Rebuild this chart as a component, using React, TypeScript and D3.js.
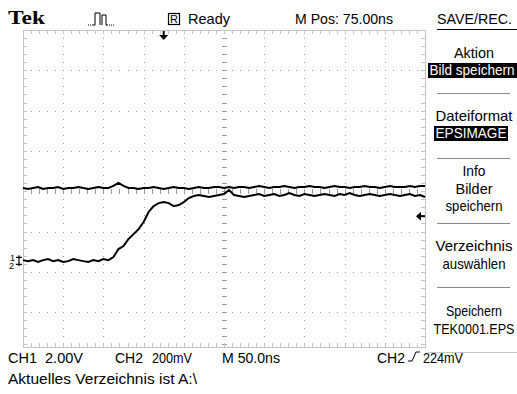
import React from "react";
import * as d3 from "d3";

// ---- data ----
const timeStart = -175; // ns at left edge
const timeEnd = 325; // ns at right edge
const sampleTimes = d3.range(timeStart, timeEnd + 0.01, 6.25); // ns
const ch1Volts = [
  3.64, 3.59, 3.64, 3.69, 3.59, 3.64, 3.64, 3.69, 3.59, 3.64, 3.64, 3.69, 3.64, 3.59, 3.64, 3.69, 3.64, 3.64,
  3.74, 3.89, 3.74, 3.64,
  3.64, 3.59, 3.64, 3.64, 3.69, 3.64, 3.59, 3.64, 3.69, 3.64,
  3.64, 3.59, 3.64, 3.69, 3.64, 3.64, 3.69, 3.69, 3.64, 3.69,
  3.64, 3.69, 3.69, 3.64, 3.69, 3.74, 3.69, 3.64, 3.69, 3.69,
  3.74, 3.69, 3.64, 3.69, 3.69, 3.74, 3.69, 3.69, 3.64, 3.69,
  3.74, 3.69, 3.69, 3.64, 3.69, 3.69, 3.74, 3.69, 3.69, 3.64,
  3.69, 3.74, 3.69, 3.69, 3.69, 3.74, 3.69, 3.74, 3.74,
];
const ch2MilliVolts = [
  6, 1, 6, -3, 6, 11, 1, 6, -3, 1, 11, 6, 1, -3, 6, 1, 11, 6,
  21, 61, 76, 111, 135, 160, 195, 245, 274, 289, 294, 289, 274, 279, 294, 314, 324, 329, 324, 319, 324, 329, 334, 354, 329, 324, 319, 324, 329,
  334, 324, 329, 334, 324, 329, 339, 329, 324, 334,
  329, 324, 329, 334, 329, 324, 334, 329, 339, 329,
  324, 329, 334, 329, 324, 329, 334, 329, 324, 329,
  334, 324, 329, 319,
];
const ch1VoltsPerDiv = 2;
const ch2MilliVoltsPerDiv = 200;
const groundOffsetDiv = -1.74;
const triggerLevelMv = 224;
const triggerTimeNs = 0;

const menuTitle = "SAVE/REC.";
const menuLabels = [["Aktion"], ["Dateiformat"], ["Info", "Bilder", "speichern"], ["Verzeichnis", "auswählen"], ["Speichern", "TEK0001.EPS"]];
const menuValues = ["Bild speichern", "EPSIMAGE", null, null, null];
const bottomLabels = ["CH1", "2.00V", "CH2", "200mV", "M 50.0ns", "CH2", "224mV"];
const statusLine = "Aktuelles Verzeichnis ist A:\\";

const W = 517;
const H = 394;
const gx0 = 23;
const gx1 = 425;
const gy0 = 30;
const divV = 40.3;
const gy1 = 347;
const FONT = "'Liberation Sans', 'Arial', sans-serif";
const FS = 15;

// approximate target widths for the narrow scope font
const widths: Record<string, number> = {
  Ready: 42,
  "M Pos: 75.00ns": 98,
  "SAVE/REC.": 75,
  Aktion: 40,
  "Bild speichern": 85,
  Dateiformat: 77,
  EPSIMAGE: 71,
  Info: 23,
  Bilder: 37,
  speichern: 57,
  Verzeichnis: 77,
  "auswählen": 63,
  Speichern: 56,
  "TEK0001.EPS": 81,
  CH1: 29,
  "2.00V": 38,
  CH2: 28,
  "200mV": 40,
  "M 50.0ns": 58,
  "224mV": 40,
  [statusLine]: 189,
};

function T(props: { x: number; y: number; s: string; anchor?: string; fill?: string }) {
  const w = widths[props.s];
  return (
    <text
      x={props.x}
      y={props.y}
      fontSize={FS}
      textAnchor={props.anchor || "start"}
      fill={props.fill || "#000"}
      textLength={w}
      lengthAdjust="spacingAndGlyphs"
    >
      {props.s}
    </text>
  );
}

export default function App() {
  const x = d3.scaleLinear().domain([timeStart, timeEnd]).range([gx0, gx1]);
  const yDiv = d3.scaleLinear().domain([-4, 4]).range([gy0 + 8 * divV, gy0]);
  const divH = (gx1 - gx0) / 10;
  const cx = gx0 + 5 * divH;
  const cy = yDiv(0);

  const n = Math.min(sampleTimes.length, ch1Volts.length, ch2MilliVolts.length);
  const idx = d3.range(n);
  const line1 = d3
    .line<number>()
    .x((i) => x(sampleTimes[i]))
    .y((i) => yDiv(ch1Volts[i] / ch1VoltsPerDiv + groundOffsetDiv));
  const line2 = d3
    .line<number>()
    .x((i) => x(sampleTimes[i]))
    .y((i) => yDiv(ch2MilliVolts[i] / ch2MilliVoltsPerDiv + groundOffsetDiv));

  const gridColor = "#c4c4c4";
  const dotColor = "#9a9a9a";
  const minorH = divH / 5;
  const minorV = divV / 5;

  const elems: React.ReactNode[] = [];
  for (let k = 1; k < 10; k++) {
    if (k === 5) continue;
    const gx = gx0 + k * divH;
    for (let yy = gy0 + minorV; yy < gy1 - 1; yy += minorV) {
      elems.push(<rect key={`dv${k}-${yy}`} x={Math.round(gx)} y={Math.round(yy)} width={1} height={1} fill={dotColor} />);
    }
  }
  for (let k = 1; k < 8; k++) {
    if (k === 4) continue;
    const gy = gy0 + k * divV;
    for (let xx = gx0 + minorH; xx < gx1 - 1; xx += minorH) {
      elems.push(<rect key={`dh${k}-${xx}`} x={Math.round(xx)} y={Math.round(gy)} width={1} height={1} fill={dotColor} />);
    }
  }
  for (let yy = gy0 + minorV; yy < gy1 - 1; yy += minorV) {
    elems.push(<rect key={`cv${yy}`} x={Math.round(cx) - 2} y={Math.round(yy)} width={5} height={1} fill={dotColor} />);
  }
  for (let xx = gx0 + minorH; xx < gx1 - 1; xx += minorH) {
    elems.push(<rect key={`ch${xx}`} x={Math.round(xx)} y={Math.round(cy) - 2} width={1} height={5} fill={dotColor} />);
  }
  for (let xx = gx0 + minorH; xx < gx1 - 1; xx += minorH) {
    elems.push(<rect key={`bt${xx}`} x={Math.round(xx)} y={gy0} width={1} height={4} fill={gridColor} />);
    elems.push(<rect key={`bb${xx}`} x={Math.round(xx)} y={gy1 - 4} width={1} height={4} fill={gridColor} />);
  }
  for (let yy = gy0 + minorV; yy < gy1 - 1; yy += minorV) {
    elems.push(<rect key={`bl${yy}`} x={gx0} y={Math.round(yy)} width={4} height={1} fill={gridColor} />);
    elems.push(<rect key={`br${yy}`} x={gx1 - 4} y={Math.round(yy)} width={4} height={1} fill={gridColor} />);
  }

  const trigX = x(triggerTimeNs);
  const trigY = yDiv(triggerLevelMv / ch2MilliVoltsPerDiv + groundOffsetDiv);
  const gndY = yDiv(groundOffsetDiv);

  const menuX = 474;
  const itemTops = [47, 110, 165, 240, 305];
  const sepYs = [93, 158, 223, 287, 352];

  return (
    <svg width={W} height={H} style={{ position: "absolute", left: 0, top: 0, background: "#fff" }} fontFamily={FONT}>
      <rect x={0} y={0} width={W} height={H} fill="#fff" />
      {/* graticule */}
      <rect x={gx0 + 0.5} y={gy0 + 0.5} width={gx1 - gx0} height={gy1 - gy0} fill="none" stroke={gridColor} strokeWidth={1} />
      {elems}

      {/* traces */}
      <path d={line1(idx) || ""} fill="none" stroke="#000" strokeWidth={2} />
      <path d={line2(idx) || ""} fill="none" stroke="#000" strokeWidth={2} />

      {/* trigger position marker */}
      <path d={`M${trigX},${gy0 + 1} V${gy0 + 6}`} stroke="#000" strokeWidth={2} />
      <path d={`M${trigX - 4.5},${gy0 + 5} H${trigX + 4.5} L${trigX},${gy0 + 10} Z`} fill="#000" />
      {/* trigger level marker */}
      <path d={`M${gx1 - 8},${trigY} H${gx1}`} stroke="#000" strokeWidth={2} />
      <path d={`M${gx1 - 4},${trigY - 4.5} V${trigY + 4.5} L${gx1 - 9},${trigY} Z`} fill="#000" />
      {/* ground markers */}
      <text fontSize={9} fill="#000">
        <tspan x={10} y={gndY}>1</tspan>
        <tspan x={9} y={gndY + 8}>2</tspan>
      </text>
      <path d={`M${16},${gndY - 4} H${22} M${16},${gndY + 3} H${22} M19,${gndY - 6} V${gndY + 5}`} stroke="#000" strokeWidth={1.2} />

      {/* top bar */}
      <text x={8} y={24} fontFamily="'Liberation Serif', serif" fontWeight="bold" fontSize={19} textLength={37} lengthAdjust="spacingAndGlyphs" fill="#000">Tek</text>
      <path d="M88,25 H89 M90,25 H91 M92,25 H95 V13 H100 V25 M102,25 V15 H106 V25 H108 M109,25 H110 M111,25 H112 M113,25 H114" stroke="#000" strokeWidth={1} fill="none" />
      <rect x={168.5} y={13.5} width={11} height={11} fill="none" stroke="#000" strokeWidth={1.2} />
      <text x={174} y={23} fontSize={11} textAnchor="middle" fill="#000">R</text>
      <T x={188} y={24} s="Ready" />
      <T x={295} y={24} s="M Pos: 75.00ns" />

      {/* menu */}
      <T x={437} y={24} s={menuTitle} />
      <line x1={437} x2={517} y1={29.5} y2={29.5} stroke="#000" strokeWidth={1} />
      {menuLabels.map((lines, i) => {
        const top = itemTops[i];
        const v = menuValues[i];
        return (
          <g key={i}>
            {lines.map((l, j) => (
              <T key={j} x={menuX - widths[l] / 2} y={top + 11 + j * 17.5} s={l} />
            ))}
            {v && (
              <g>
                <rect x={i === 0 ? 428 : 434} y={top + 16} width={i === 0 ? 89 : 74} height={15} fill="#000" />
                <T x={i === 0 ? 429.5 : 435.5} y={top + 28} s={v} fill="#fff" />
              </g>
            )}
          </g>
        );
      })}
      {sepYs.map((sy, i) => (
        <line key={i} x1={i === 4 ? 428 : 437} x2={i === 4 ? 517 : 510} y1={sy + 0.5} y2={sy + 0.5} stroke={i === 4 ? gridColor : "#888"} strokeWidth={1} />
      ))}

      {/* bottom bar */}
      <T x={8} y={363} s={bottomLabels[0]} />
      <T x={45} y={363} s={bottomLabels[1]} />
      <T x={115} y={363} s={bottomLabels[2]} />
      <T x={152} y={363} s={bottomLabels[3]} />
      <T x={222} y={363} s={bottomLabels[4]} />
      <T x={377} y={363} s={bottomLabels[5]} />
      <path d="M408,361 H412 L416,352 H420" stroke="#000" strokeWidth={1} fill="none" />
      <T x={423} y={363} s={bottomLabels[6]} />
      <T x={8} y={384} s={statusLine} />
    </svg>
  );
}
